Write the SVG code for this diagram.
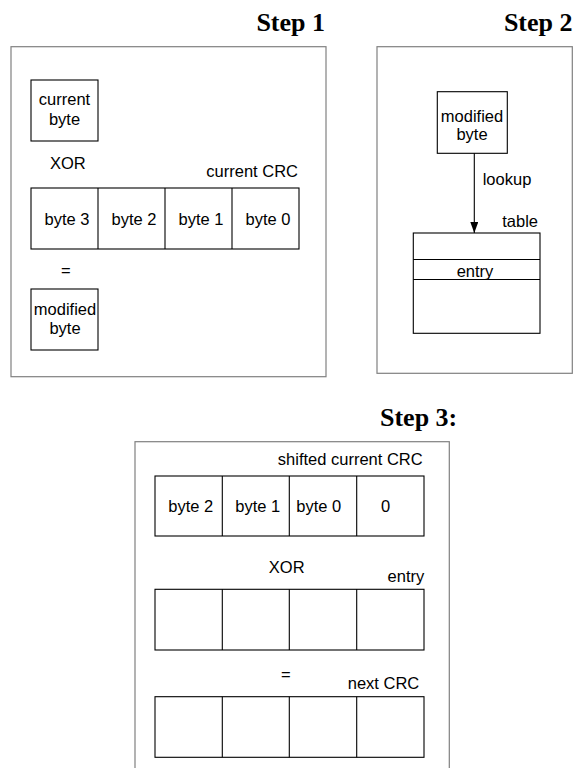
<svg xmlns="http://www.w3.org/2000/svg" width="574" height="768" viewBox="0 0 574 768">
<style>
.frame{fill:#fff;stroke:#808080;stroke-width:1.2}
.box{fill:#fff;stroke:#000;stroke-width:1.1}
.ln{stroke:#000;stroke-width:1.1;fill:none}
.t{font-family:"Liberation Sans",Arial,sans-serif;font-size:16.5px;fill:#000}
.m{text-anchor:middle}
.e{text-anchor:end}
.h{font-family:"Liberation Serif","Times New Roman",serif;font-size:26px;font-weight:bold;fill:#000}
</style>
<defs>
<marker id="ah" markerWidth="11" markerHeight="8" refX="11" refY="4" orient="auto" markerUnits="userSpaceOnUse" viewBox="0 0 11 8">
<path d="M0,0 L11,4 L0,8 z" fill="#000"/>
</marker>
</defs>
<rect width="574" height="768" fill="#fff"/>

<g id="step1">
<text class="h e" x="325" y="31">Step 1</text>
<rect class="frame" x="11" y="46.7" width="315" height="330"/>
</g>
<g id="current-byte">
<rect class="box" x="31" y="80" width="67" height="61"/>
<text class="t m" x="64.5" y="105">current</text>
<text class="t m" x="64.5" y="124.5">byte</text>
</g>
<text class="t" x="50" y="169">XOR</text>
<text class="t e" x="298" y="177">current CRC</text>
<g id="current-crc">
<rect class="box" x="31" y="188" width="268" height="61"/>
<line class="ln" x1="98" y1="188" x2="98" y2="249"/>
<line class="ln" x1="165" y1="188" x2="165" y2="249"/>
<line class="ln" x1="232" y1="188" x2="232" y2="249"/>
<text class="t m" x="67" y="225">byte 3</text>
<text class="t m" x="134" y="225">byte 2</text>
<text class="t m" x="201" y="225">byte 1</text>
<text class="t m" x="268" y="225">byte 0</text>
</g>
<text class="t m" x="65.7" y="276">=</text>
<g id="modified-byte-1">
<rect class="box" x="31" y="289" width="67" height="61"/>
<text class="t m" x="65" y="315">modified</text>
<text class="t m" x="65" y="334">byte</text>
</g>

<g id="step2">
<text class="h e" x="572.5" y="31">Step 2</text>
<rect class="frame" x="377" y="46.7" width="195.3" height="326.6"/>
</g>
<g id="modified-byte-2">
<rect class="box" x="437.3" y="91.7" width="70" height="61.6"/>
<text class="t m" x="472" y="121.5">modified</text>
<text class="t m" x="472" y="140">byte</text>
</g>
<g id="table">
<text class="t e" x="538" y="226.7">table</text>
<rect class="box" x="413.3" y="233" width="126.7" height="100.3"/>
<line class="ln" x1="413.3" y1="259.5" x2="540" y2="259.5"/>
<line class="ln" x1="413.3" y1="279.5" x2="540" y2="279.5"/>
<text class="t m" x="475" y="276.5">entry</text>
</g>
<g id="connectors">
<line class="ln" x1="474.3" y1="153.3" x2="474.3" y2="233" marker-end="url(#ah)"/>
<text class="t" x="482.7" y="185">lookup</text>
</g>

<g id="step3">
<text class="h" x="380" y="426">Step 3:</text>
<rect class="frame" x="135" y="441.7" width="314.3" height="340"/>
</g>
<text class="t e" x="422.7" y="465">shifted current CRC</text>
<g id="shifted-crc">
<rect class="box" x="155" y="476" width="269" height="60"/>
<line class="ln" x1="222.3" y1="476" x2="222.3" y2="536"/>
<line class="ln" x1="289.3" y1="476" x2="289.3" y2="536"/>
<line class="ln" x1="356.7" y1="476" x2="356.7" y2="536"/>
<text class="t m" x="190.8" y="511.7">byte 2</text>
<text class="t m" x="257.7" y="511.7">byte 1</text>
<text class="t m" x="318.7" y="511.7">byte 0</text>
<text class="t m" x="385.7" y="511.7">0</text>
</g>
<text class="t m" x="286.7" y="573.3">XOR</text>
<text class="t e" x="424.3" y="581.7">entry</text>
<g id="entry-row">
<rect class="box" x="155" y="589.3" width="269" height="60.7"/>
<line class="ln" x1="222.3" y1="589.3" x2="222.3" y2="650"/>
<line class="ln" x1="289.3" y1="589.3" x2="289.3" y2="650"/>
<line class="ln" x1="356.7" y1="589.3" x2="356.7" y2="650"/>
</g>
<text class="t m" x="285.7" y="680">=</text>
<text class="t e" x="419.3" y="689.3">next CRC</text>
<g id="next-crc">
<rect class="box" x="155" y="696.7" width="269" height="60.6"/>
<line class="ln" x1="222.3" y1="696.7" x2="222.3" y2="757.3"/>
<line class="ln" x1="289.3" y1="696.7" x2="289.3" y2="757.3"/>
<line class="ln" x1="356.7" y1="696.7" x2="356.7" y2="757.3"/>
</g>
</svg>
